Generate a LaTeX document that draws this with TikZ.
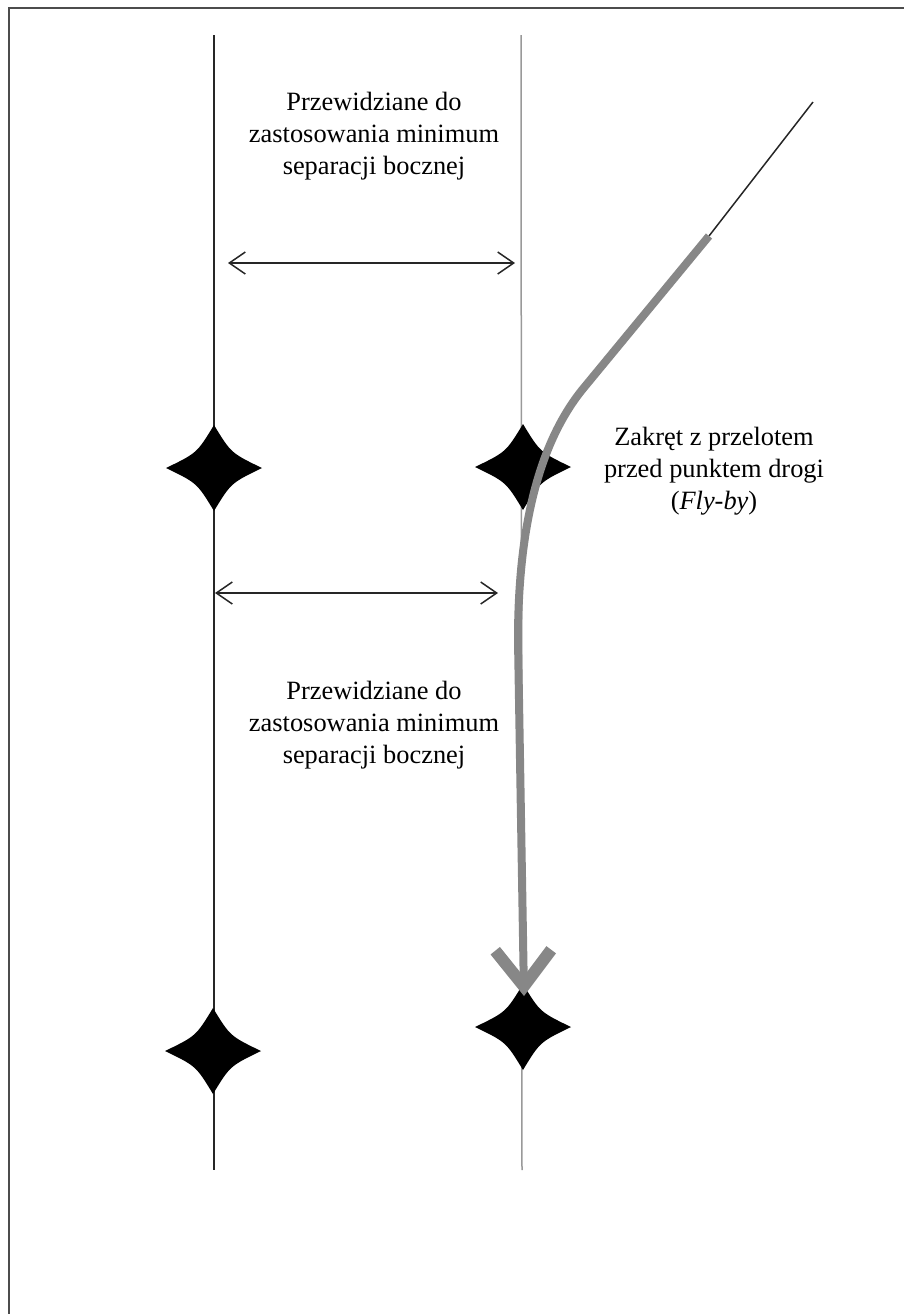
\documentclass[tikz,border=0pt]{standalone}
\usepackage{fontspec}
\setmainfont{Liberation Serif}
\usetikzlibrary{arrows.meta,
	calc,
	positioning}
\tikzstyle{ramka}=[line width=1pt, black!70]
\tikzstyle{linia}=[line width=0.75pt, black!85]
\tikzstyle{liniaszara}=[line width=0.75pt, black!40]
\tikzstyle{odstep}=[line width=0.75pt, black!85,
		{Straight Barb[length=8pt,width=11pt]}-{Straight Barb[length=8pt,width=11pt]}]
\tikzstyle{trasa}=[line width=4pt, black!47, -{Straight Barb[length=18pt,width=28pt,line width=6pt]}]
\tikzstyle{opis}=[align=center, inner sep=0pt, font=\fontsize{13.2}{16}\selectfont]
\tikzset{gwiazda/.pic={
		\fill[black] (48,0) .. controls (17,15) .. (0,43) .. controls (-17,15) .. (-48,0)
			.. controls (-17,-15) .. (0,-43) .. controls (17,-15) .. cycle;
	}}

\begin{document}
\begin{tikzpicture}[x=0.5pt, y=-0.5pt]
                \useasboundingbox (0,0) rectangle (904,1314);
                \draw[ramka] (9,1314) -- (9,8) -- (904,8);

                \coordinate (lg) at (214,35);
                \coordinate (ld) at (214,1170);
                \coordinate (pg) at (521,35);
                \coordinate (pd) at (522,1170);
                \coordinate (l1) at (214,468);
                \coordinate (l2) at (213,1051);
                \coordinate (p1) at (523,467);
                \coordinate (p2) at (523,1027);

                \draw[linia] (lg) -- (ld);
                \draw[liniaszara] (pg) -- (pd);
                \foreach \p in {l1,l2,p1,p2}
                    \pic at (\p) {gwiazda};

                \node[opis] (gora) at (374,136) {Przewidziane do\\zastosowania minimum\\separacji bocznej};
                \node[opis] (dol) at (374,725) {Przewidziane do\\zastosowania minimum\\separacji bocznej};
                \node[opis] (zakret) at (714,471) {Zakręt z przelotem\\przed punktem drogi\\(\textit{Fly-by})};

                \coordinate (s1) at (228,263);
                \coordinate (s2) at (515,263);
                \coordinate (s3) at (215,593);
                \coordinate (s4) at (498,593);
                \draw[odstep] (s1) -- (s2);
                \draw[odstep] (s3) -- (s4);

                \coordinate (t0) at (813,102);
                \coordinate (t1) at (709,236);
                \coordinate (t2) at (582,390);
                \coordinate (t3) at (518,640);
                \coordinate (t4) at (524,996);
                \draw[linia] (t0) -- (t1);
                \draw[trasa] (t1) -- (t2) .. controls (538,445) and (518,530) .. (t3) -- (t4);
\end{tikzpicture}
\end{document}
